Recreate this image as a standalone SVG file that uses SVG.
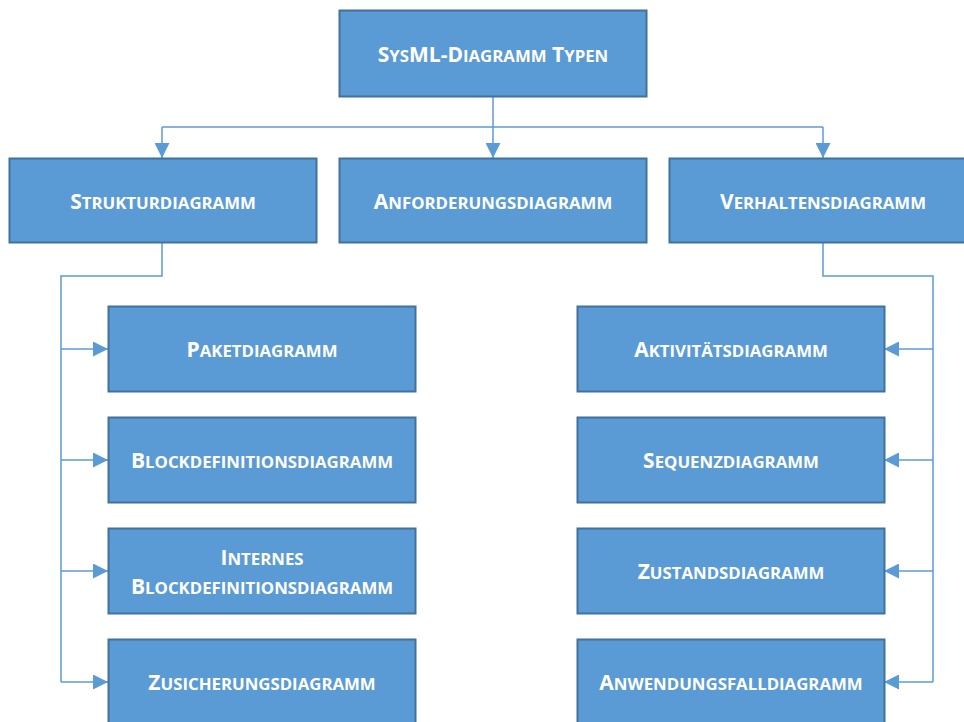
<svg xmlns="http://www.w3.org/2000/svg" width="964" height="722" viewBox="0 0 964 722">
  <style>
    .box { fill: #5B9BD5; stroke: #41719C; stroke-width: 2; }
    .lbl { font-family: "Open Sans", "Liberation Sans", sans-serif; font-weight: bold; fill: #FFFFFF; font-size: 21px; text-anchor: middle; }
    .sc { font-size: 16.8px; }
    .conn { fill: none; stroke: #5B9BD5; stroke-width: 1.5; }
  </style>
  <defs>
    <marker id="arrow" viewBox="0 0 10 10" refX="10" refY="5" markerWidth="15" markerHeight="15" markerUnits="userSpaceOnUse" orient="auto">
      <path d="M0,0 L10,5 L0,10 z" fill="#5B9BD5"/>
    </marker>
  </defs>
  <rect width="964" height="722" fill="#FFFFFF"/>

  <!-- connectors -->
  <g id="connectors">
    <path class="conn" d="M162,127 H823"/>
    <path class="conn" d="M493,97 V158" marker-end="url(#arrow)"/>
    <path class="conn" d="M162,127 V158" marker-end="url(#arrow)"/>
    <path class="conn" d="M823,127 V158" marker-end="url(#arrow)"/>

    <path class="conn" d="M162,243 V276 H61 V682"/>
    <path class="conn" d="M61,349 H108" marker-end="url(#arrow)"/>
    <path class="conn" d="M61,460 H108" marker-end="url(#arrow)"/>
    <path class="conn" d="M61,571 H108" marker-end="url(#arrow)"/>
    <path class="conn" d="M61,682 H108" marker-end="url(#arrow)"/>

    <path class="conn" d="M823,243 V276 H933 V682"/>
    <path class="conn" d="M933,349 H884" marker-end="url(#arrow)"/>
    <path class="conn" d="M933,460 H884" marker-end="url(#arrow)"/>
    <path class="conn" d="M933,571 H884" marker-end="url(#arrow)"/>
    <path class="conn" d="M933,682 H884" marker-end="url(#arrow)"/>
  </g>

  <!-- root -->
  <g id="sysml-typen">
    <rect class="box" x="339.5" y="10.5" width="307" height="86"/>
    <text class="lbl" x="493" y="62">S<tspan class="sc">YS</tspan>ML-D<tspan class="sc">IAGRAMM</tspan> T<tspan class="sc">YPEN</tspan></text>
  </g>

  <!-- second level -->
  <g id="strukturdiagramm">
    <rect class="box" x="9.5" y="158.5" width="307" height="84"/>
    <text class="lbl" x="163" y="209">S<tspan class="sc">TRUKTURDIAGRAMM</tspan></text>
  </g>
  <g id="anforderungsdiagramm">
    <rect class="box" x="339.5" y="158.5" width="307" height="84"/>
    <text class="lbl" x="493" y="209">A<tspan class="sc">NFORDERUNGSDIAGRAMM</tspan></text>
  </g>
  <g id="verhaltensdiagramm">
    <rect class="box" x="669.5" y="158.5" width="307" height="84"/>
    <text class="lbl" x="823" y="209">V<tspan class="sc">ERHALTENSDIAGRAMM</tspan></text>
  </g>

  <!-- structure diagrams -->
  <g id="paketdiagramm">
    <rect class="box" x="108.5" y="306.5" width="307" height="85"/>
    <text class="lbl" x="262" y="357">P<tspan class="sc">AKETDIAGRAMM</tspan></text>
  </g>
  <g id="blockdefinitionsdiagramm">
    <rect class="box" x="108.5" y="417.5" width="307" height="85"/>
    <text class="lbl" x="262" y="468">B<tspan class="sc">LOCKDEFINITIONSDIAGRAMM</tspan></text>
  </g>
  <g id="internes-blockdefinitionsdiagramm">
    <rect class="box" x="108.5" y="528.5" width="307" height="85"/>
    <text class="lbl" x="262" y="565">I<tspan class="sc">NTERNES</tspan></text>
    <text class="lbl" x="262" y="594">B<tspan class="sc">LOCKDEFINITIONSDIAGRAMM</tspan></text>
  </g>
  <g id="zusicherungsdiagramm">
    <rect class="box" x="108.5" y="639.5" width="307" height="85"/>
    <text class="lbl" x="262" y="690">Z<tspan class="sc">USICHERUNGSDIAGRAMM</tspan></text>
  </g>

  <!-- behaviour diagrams -->
  <g id="aktivitaetsdiagramm">
    <rect class="box" x="577.5" y="306.5" width="307" height="85"/>
    <text class="lbl" x="731" y="357">A<tspan class="sc">KTIVITÄTSDIAGRAMM</tspan></text>
  </g>
  <g id="sequenzdiagramm">
    <rect class="box" x="577.5" y="417.5" width="307" height="85"/>
    <text class="lbl" x="731" y="468">S<tspan class="sc">EQUENZDIAGRAMM</tspan></text>
  </g>
  <g id="zustandsdiagramm">
    <rect class="box" x="577.5" y="528.5" width="307" height="85"/>
    <text class="lbl" x="731" y="579">Z<tspan class="sc">USTANDSDIAGRAMM</tspan></text>
  </g>
  <g id="anwendungsfalldiagramm">
    <rect class="box" x="577.5" y="639.5" width="307" height="85"/>
    <text class="lbl" x="731" y="690">A<tspan class="sc">NWENDUNGSFALLDIAGRAMM</tspan></text>
  </g>
</svg>
